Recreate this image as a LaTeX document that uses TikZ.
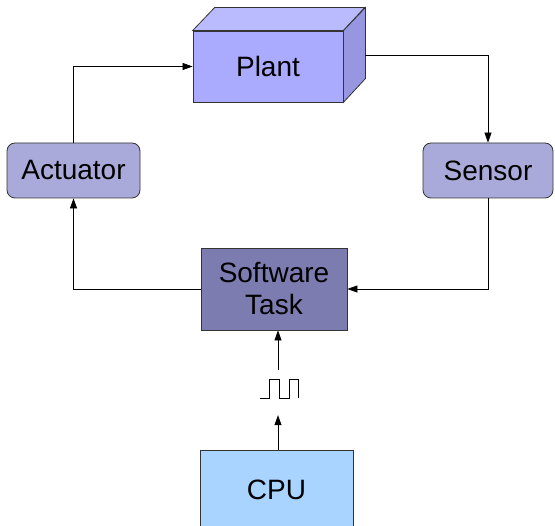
\documentclass[tikz,border=0pt]{standalone}
\usepackage{fontspec}
\setmainfont{Liberation Sans}
\usetikzlibrary{arrows.meta,calc}
\usetikzlibrary{positioning}

\definecolor{plantfront}{RGB}{170,170,255}
\definecolor{planttop}{RGB}{186,186,255}
\definecolor{plantside}{RGB}{150,150,225}
\definecolor{ioblock}{RGB}{170,170,218}
\definecolor{swblock}{RGB}{124,124,176}
\definecolor{cpublock}{RGB}{168,212,255}

\begin{document}
\begin{tikzpicture}[x=1pt,y=-1pt]
        \useasboundingbox (0,0) rectangle (555,526);

        \begin{scope}[every node/.style={draw=black!80,line width=0.8pt,
            font=\fontsize{28}{32}\selectfont,inner sep=0pt,align=center}]
            \node[fill=plantfront,minimum width=150pt,minimum height=71pt] (plant) at (268,66.5) {Plant};
            \node[fill=ioblock,rounded corners=8pt,minimum width=133pt,minimum height=55pt] (act) at (73.5,170.5) {Actuator};
            \node[fill=ioblock,rounded corners=8pt,minimum width=130pt,minimum height=55pt] (sensor) at (488,170.5) {Sensor};
            \node[fill=swblock,minimum width=146pt,minimum height=82pt] (sw) at (274,289) {Software\\Task};
            \node[fill=cpublock,minimum width=153pt,minimum height=80pt] (cpu) at (276.5,490) {CPU};
        \end{scope}

        % depth of the plant box
        \draw[fill=planttop,line width=0.8pt,draw=black!80] (plant.north west) -- ++(22,-23) -- ++(150,0)
            -- ($(plant.north east)$) -- cycle;
        \draw[fill=plantside,line width=0.8pt,draw=black!80] (plant.north east) -- ++(22,-23) -- ++(0,71)
            -- (plant.south east) -- cycle;
        \coordinate (pout) at ($(plant.east)+(22,-11.5)$);

        % clock signal
        \node[inner sep=0pt,minimum width=40pt,minimum height=45pt] (clk) at (278,392.5) {};
        \draw[line width=0.9pt] (260,398) -- (269,398) -- (269,379) -- (279,379) -- (279,398)
            -- (289,398) -- (289,379) -- (298,379) -- (298,398);

        \begin{scope}[>={Triangle[length=10pt,width=7pt]},line width=0.7pt]
            \draw[->] (act.north) |- (plant.west);
            \draw[->] (pout) -| (sensor.north);
            \draw[->] (sensor.south) |- (sw.east);
            \draw[->] (sw.west) -| (act.south);
            \draw[->] (cpu.north -| clk) -- (clk.south);
            \draw[->] (clk.north) -- (clk |- sw.south);
        \end{scope}
    \end{tikzpicture}
\end{document}
